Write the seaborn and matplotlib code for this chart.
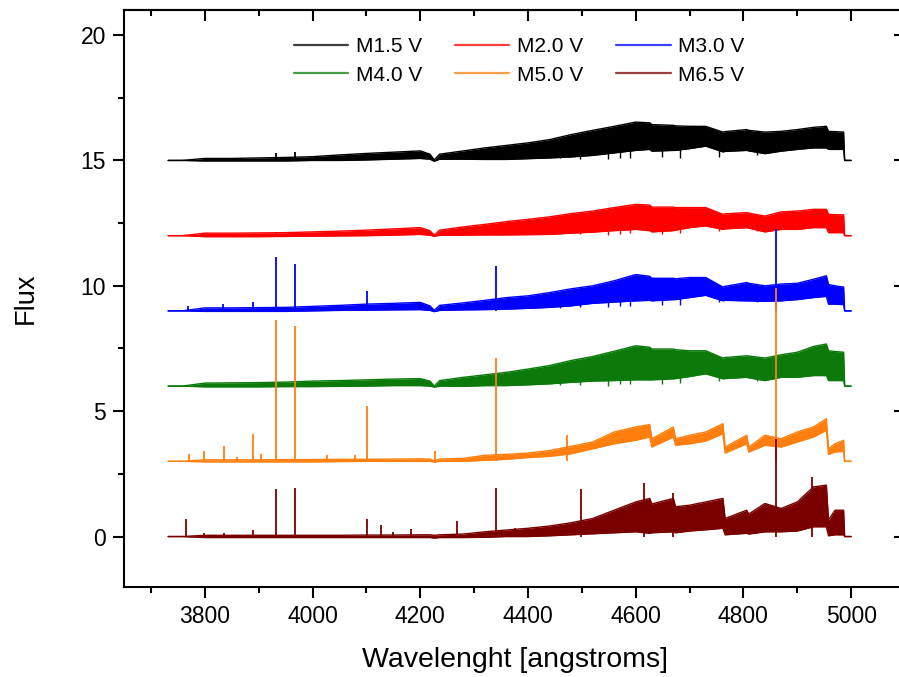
import numpy as np
import pandas as pd
import matplotlib
matplotlib.use("Agg")
import matplotlib.pyplot as plt
from matplotlib.lines import Line2D
from matplotlib.ticker import MultipleLocator
import seaborn as sns

# ---------------- data ----------------
wavelength = [3732, 3758, 3800, 3850, 3900, 3950, 4000, 4050, 4100, 4150, 4200,
              4218, 4226, 4236, 4280, 4320, 4360, 4400, 4440, 4480, 4520, 4560,
              4600, 4626, 4630, 4670, 4674, 4700, 4730, 4762, 4766, 4806, 4810,
              4840, 4870, 4900, 4930, 4954, 4958, 4970, 4986, 4988, 5000]

names = ["M1.5 V", "M2.0 V", "M3.0 V", "M4.0 V", "M5.0 V", "M6.5 V"]
offsets = [15, 12, 9, 6, 3, 0]
colors = ["#000000", "#ff0000", "#0000ff", "#0b7a0b", "#ff7f0e", "#7a0000"]

m15_lo = [15.0, 15.0, 14.98, 14.98, 14.98, 14.98, 15.0, 15.0, 15.02, 15.05, 15.08, 15.05, 14.97, 15.05, 15.05, 15.04, 15.04, 15.07, 15.1, 15.14, 15.2, 15.3, 15.4, 15.44, 15.37, 15.4, 15.4, 15.47, 15.57, 15.34, 15.36, 15.4, 15.38, 15.27, 15.37, 15.44, 15.5, 15.5, 15.44, 15.44, 15.44, 15.0, 15.0]
m15_hi = [15.0, 15.0, 15.08, 15.08, 15.1, 15.12, 15.15, 15.22, 15.28, 15.33, 15.38, 15.25, 15.02, 15.25, 15.38, 15.5, 15.6, 15.7, 15.83, 16.03, 16.2, 16.36, 16.53, 16.5, 16.43, 16.4, 16.38, 16.36, 16.36, 16.13, 16.15, 16.23, 16.2, 16.13, 16.16, 16.23, 16.32, 16.36, 16.16, 16.15, 16.13, 15.0, 15.0]

m20_lo = [12.0, 12.0, 11.96, 11.96, 11.96, 11.97, 11.98, 11.99, 12.0, 12.02, 12.05, 12.02, 11.97, 12.02, 12.02, 12.03, 12.03, 12.04, 12.05, 12.1, 12.14, 12.2, 12.25, 12.2, 12.15, 12.2, 12.22, 12.32, 12.39, 12.25, 12.27, 12.32, 12.3, 12.15, 12.25, 12.25, 12.32, 12.32, 12.12, 12.12, 12.12, 12.0, 12.0]
m20_hi = [12.0, 12.0, 12.1, 12.1, 12.11, 12.12, 12.15, 12.18, 12.22, 12.27, 12.32, 12.2, 12.02, 12.22, 12.35, 12.45, 12.56, 12.65, 12.75, 12.88, 12.98, 13.12, 13.25, 13.22, 13.14, 13.14, 13.12, 13.12, 13.12, 12.85, 12.87, 12.92, 12.9, 12.78, 12.95, 12.98, 13.05, 13.05, 12.85, 12.84, 12.83, 12.0, 12.0]

m30_lo = [9.0, 9.0, 8.98, 8.98, 8.98, 8.98, 9.0, 9.02, 9.03, 9.04, 9.05, 9.02, 8.97, 9.02, 9.04, 9.05, 9.07, 9.1, 9.14, 9.2, 9.3, 9.35, 9.4, 9.42, 9.4, 9.45, 9.45, 9.53, 9.62, 9.4, 9.42, 9.4, 9.4, 9.38, 9.4, 9.45, 9.53, 9.58, 9.27, 9.27, 9.25, 9.0, 9.0]
m30_hi = [9.0, 9.0, 9.12, 9.12, 9.13, 9.14, 9.18, 9.22, 9.27, 9.3, 9.34, 9.2, 9.02, 9.22, 9.32, 9.42, 9.53, 9.6, 9.73, 9.88, 10.0, 10.2, 10.45, 10.38, 10.3, 10.3, 10.28, 10.33, 10.33, 9.95, 9.98, 10.13, 10.1, 10.0, 10.07, 10.1, 10.26, 10.4, 10.05, 10.0, 9.95, 9.0, 9.0]

m40_lo = [6.0, 6.0, 5.97, 5.97, 5.97, 5.98, 5.98, 5.99, 6.0, 6.02, 6.02, 6.0, 5.96, 6.0, 5.99, 6.02, 6.02, 6.05, 6.09, 6.15, 6.2, 6.22, 6.25, 6.25, 6.25, 6.29, 6.3, 6.38, 6.49, 6.29, 6.3, 6.35, 6.33, 6.22, 6.35, 6.35, 6.42, 6.42, 6.22, 6.22, 6.22, 6.0, 6.0]
m40_hi = [6.0, 6.0, 6.12, 6.13, 6.14, 6.16, 6.2, 6.22, 6.25, 6.28, 6.3, 6.2, 6.0, 6.22, 6.35, 6.45, 6.55, 6.68, 6.82, 7.02, 7.18, 7.39, 7.61, 7.55, 7.48, 7.48, 7.45, 7.41, 7.41, 7.12, 7.14, 7.21, 7.2, 7.12, 7.25, 7.35, 7.58, 7.68, 7.41, 7.38, 7.35, 6.0, 6.0]

m50_lo = [3.0, 3.0, 2.98, 2.98, 2.98, 2.98, 2.98, 2.99, 3.0, 3.0, 3.0, 3.0, 2.97, 3.0, 3.0, 3.04, 3.08, 3.15, 3.2, 3.3, 3.5, 3.7, 3.84, 3.97, 3.57, 3.97, 3.64, 3.7, 3.81, 4.1, 3.33, 3.7, 3.37, 3.64, 3.57, 3.77, 3.97, 4.24, 3.28, 3.37, 3.4, 3.0, 3.0]
m50_hi = [3.0, 3.0, 3.06, 3.06, 3.06, 3.07, 3.07, 3.08, 3.08, 3.09, 3.1, 3.09, 3.02, 3.09, 3.12, 3.24, 3.28, 3.33, 3.43, 3.6, 3.77, 4.17, 4.37, 4.47, 3.9, 4.37, 3.9, 4.04, 4.17, 4.5, 3.57, 4.04, 3.57, 4.04, 3.9, 4.17, 4.37, 4.7, 3.5, 3.7, 3.84, 3.0, 3.0]

m65_lo = [0.0, 0.0, -0.04, -0.04, -0.04, -0.04, -0.04, -0.04, -0.04, -0.04, -0.04, -0.04, -0.06, -0.04, -0.04, -0.03, 0.0, 0.0, 0.03, 0.07, 0.11, 0.15, 0.19, 0.13, 0.15, 0.19, 0.15, 0.22, 0.27, 0.33, 0.07, 0.13, 0.1, 0.19, 0.19, 0.22, 0.39, 0.39, 0.03, 0.07, 0.07, 0.0, 0.0]
m65_hi = [0.0, 0.0, 0.05, 0.05, 0.05, 0.05, 0.05, 0.05, 0.06, 0.06, 0.07, 0.07, 0.05, 0.07, 0.1, 0.19, 0.26, 0.33, 0.42, 0.55, 0.72, 1.05, 1.38, 1.52, 1.3, 1.52, 1.19, 1.25, 1.38, 1.52, 0.72, 1.05, 0.9, 1.32, 1.12, 1.38, 1.98, 2.05, 0.66, 1.05, 1.05, 0.0, 0.0]

# emission lines: wavelength and peak flux
m15_lines_wl = [3933, 3968]
m15_lines_pk = [15.3, 15.32]
m20_lines_wl = [3933, 3968]
m20_lines_pk = [12.14, 12.14]
m30_lines_wl = [3769, 3834, 3889, 3933, 3968, 4101, 4340, 4861]
m30_lines_pk = [9.2, 9.27, 9.36, 11.13, 10.86, 9.8, 10.79, 12.27]
m40_lines_wl = []
m40_lines_pk = []
m50_lines_wl = [3770, 3798, 3835, 3860, 3889, 3905, 3933, 3968, 4026, 4079, 4101, 4227, 4340, 4472, 4861]
m50_lines_pk = [3.30, 3.41, 3.61, 3.17, 4.10, 3.30, 8.63, 8.41, 3.24, 3.24, 5.19, 3.41, 7.12, 4.04, 9.93]
m65_lines_wl = [3765, 3798, 3835, 3889, 3933, 3968, 4101, 4128, 4149, 4183, 4268, 4340, 4376, 4498, 4615, 4669, 4861, 4928]
m65_lines_pk = [0.69, 0.13, 0.13, 0.26, 1.91, 1.95, 0.70, 0.46, 0.19, 0.29, 0.63, 1.95, 0.33, 1.91, 2.12, 1.72, 3.9, 2.38]

# deepest absorption dips visible in the four upper spectra
absorb_wl = [4460, 4497, 4549, 4571, 4589, 4648, 4683, 4754, 4825]
m15_absorb = [15.08, 15.05, 15.05, 15.1, 15.1, 15.12, 15.08, 15.15, 15.2]
m20_absorb = [12.05, 12.05, 12.03, 12.05, 12.1, 12.05, 12.1, 12.2, 12.2]
m30_absorb = [9.1, 9.15, 9.15, 9.2, 9.2, 9.22, 9.25, 9.35, 9.35]
m40_absorb = [6.05, 6.05, 6.02, 6.1, 6.08, 6.1, 6.12, 6.2, 6.2]
absorb_top = [15.5, 12.4, 9.5, 6.5]

x_ticks = [3800, 4000, 4200, 4400, 4600, 4800, 5000]
y_ticks = [0, 5, 10, 15, 20]

lows = [m15_lo, m20_lo, m30_lo, m40_lo, m50_lo, m65_lo]
highs = [m15_hi, m20_hi, m30_hi, m40_hi, m50_hi, m65_hi]
lines_wl = [m15_lines_wl, m20_lines_wl, m30_lines_wl, m40_lines_wl, m50_lines_wl, m65_lines_wl]
lines_pk = [m15_lines_pk, m20_lines_pk, m30_lines_pk, m40_lines_pk, m50_lines_pk, m65_lines_pk]
absorbs = [m15_absorb, m20_absorb, m30_absorb, m40_absorb]

# ---------------- style ----------------
sns.set_theme(style="ticks")
plt.rcParams["font.family"] = ["Liberation Sans", "DejaVu Sans"]
plt.rcParams["axes.linewidth"] = 1.5
for key in ["text.color", "axes.labelcolor", "xtick.color", "ytick.color", "axes.edgecolor"]:
    plt.rcParams[key] = "#000000"

fig = plt.figure(figsize=(8.99, 6.77), dpi=100)
ax = fig.add_axes([124 / 899, 90.3 / 677, 781 / 899, 576.7 / 677])

for i, name in enumerate(names):
    df = pd.DataFrame({"wl": wavelength, "lo": lows[i], "hi": highs[i]})
    ax.fill_between(df["wl"], df["lo"], df["hi"], color=colors[i], lw=0, zorder=2 + i)
    sns.lineplot(data=df, x="wl", y="hi", ax=ax, color=colors[i], lw=1.0,
                 estimator=None, sort=False, zorder=2 + i)
    sns.lineplot(data=df, x="wl", y="lo", ax=ax, color=colors[i], lw=1.0,
                 estimator=None, sort=False, zorder=2 + i)
    if i < len(absorbs):
        ax.vlines(absorb_wl, absorbs[i], absorb_top[i], color=colors[i], lw=1.0, zorder=2 + i)
    if lines_wl[i]:
        ax.vlines(lines_wl[i], offsets[i], lines_pk[i], color=colors[i], lw=1.3, zorder=2 + i)

ax.set_xlim(3650, 5100)
ax.set_ylim(-2, 21)
ax.set_xticks(x_ticks)
ax.set_yticks(y_ticks)
ax.xaxis.set_minor_locator(MultipleLocator(100))
ax.yaxis.set_minor_locator(MultipleLocator(2.5))
ax.tick_params(which="major", direction="out", length=8, width=1.5, labelsize=16.5, pad=5)
ax.tick_params(which="minor", direction="out", length=4.5, width=1.5)

for sp in ["top", "right"]:
    ax.spines[sp].set_visible(True)

secx = ax.secondary_xaxis("top")
secx.set_xticks(x_ticks)
secx.xaxis.set_minor_locator(MultipleLocator(100))
secx.tick_params(which="major", direction="in", length=8, width=1.5, labeltop=False)
secx.tick_params(which="minor", direction="in", length=4.5, width=1.5)
secx.spines["top"].set_linewidth(1.5)

secy = ax.secondary_yaxis("right")
secy.set_yticks(y_ticks)
secy.yaxis.set_minor_locator(MultipleLocator(2.5))
secy.tick_params(which="major", direction="in", length=8, width=1.5, labelright=False)
secy.tick_params(which="minor", direction="in", length=4.5, width=1.5)

ax.set_xlabel("Wavelenght [angstroms]", fontsize=20.5, labelpad=14)
ax.set_ylabel("Flux", fontsize=19.5, labelpad=30)

order = [0, 3, 1, 4, 2, 5]
handles = [Line2D([0], [0], color=colors[k], lw=1.6, alpha=0.75) for k in order]
labels = [names[k] for k in order]
ax.legend(handles, labels, ncol=3, loc="upper center", bbox_to_anchor=(0.506, 0.985),
          frameon=False, fontsize=15, handlelength=2.6, handletextpad=0.35,
          columnspacing=1.6, labelspacing=0.45)

fig.savefig("out.png", dpi=100)
